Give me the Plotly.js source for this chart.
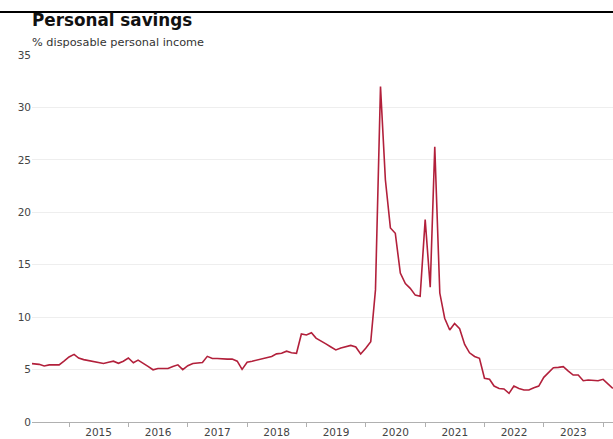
<!DOCTYPE html>
<html>
<head>
<meta charset="utf-8">
<script src="https://cdn.plot.ly/plotly-3.0.1.min.js"></script>
<style>
  html, body { margin: 0; padding: 0; background: #fff; }
  #chart { width: 613px; height: 439px; }
</style>
</head>
<body>
<div id="chart"></div>
<script>
// Personal saving rate, % of disposable personal income, monthly from May 2014
const firstMonth = [2014, 5];
const savingRate = [
  5.6, 5.58, 5.5, 5.34, 5.45, 5.45, 5.45, 5.8,                          // 2014 (May-Dec)
  6.2, 6.45, 6.1, 5.95, 5.85, 5.72, 5.62, 5.58, 5.7, 5.8, 5.6, 5.8,      // 2015
  6.1, 5.65, 5.9, 5.55, 5.3, 4.98, 5.1, 5.1, 5.1, 5.3, 5.45, 5.0,        // 2016
  5.37, 5.58, 5.6, 5.68, 6.26, 6.06, 6.05, 6.0, 6.0, 6.0, 5.8, 5.02,     // 2017
  5.7, 5.8, 5.9, 6.0, 6.1, 6.25, 6.5, 6.55, 6.75, 6.6, 6.55, 8.39,       // 2018
  8.3, 8.52, 8.0, 7.75, 7.45, 7.15, 6.87, 7.05, 7.2, 7.3, 7.15, 6.48,    // 2019
  7.03, 7.66, 12.6, 32.0, 23.1, 18.5, 18.0, 14.2, 13.2, 12.75, 12.1, 12.0, // 2020
  19.3, 12.85, 26.25, 12.3, 9.9, 8.77, 9.4, 8.9, 7.4, 6.6, 6.25, 6.07,   // 2021
  4.17, 4.07, 3.43, 3.2, 3.15, 2.73, 3.43, 3.2, 3.05, 3.05, 3.27, 3.43,  // 2022
  4.26, 4.7, 5.18, 5.21, 5.28, 4.86, 4.48, 4.48, 3.94, 4.0, 4.0, 3.94,   // 2023
  4.07, 3.62, 3.2                                                        // 2024 (Jan-Mar)
];

// Axis ticks and labels
const yearLabels = ['2015', '2016', '2017', '2018', '2019', '2020', '2021', '2022', '2023'];
const yearBoundaries = ['2015', '2016', '2017', '2018', '2019', '2020', '2021', '2022', '2023', '2024'];
const yTicks = [0, 5, 10, 15, 20, 25, 30, 35];

const titleText = 'Personal savings';
const subtitleText = '% disposable personal income';

// Month-start dates for each value
const months = savingRate.map((_, i) => {
  const total = firstMonth[0] * 12 + (firstMonth[1] - 1) + i;
  const y = Math.floor(total / 12);
  const m = total % 12 + 1;
  return y + '-' + String(m).padStart(2, '0') + '-01';
});

const LINE = '#b2203b';
const TICK_FONT = { family: 'DejaVu Sans, Verdana, sans-serif', size: 10.5, color: '#444' };

const trace = {
  type: 'scatter',
  mode: 'lines',
  x: months,
  y: savingRate,
  line: { color: LINE, width: 1.6 },
  hoverinfo: 'x+y'
};

const layout = {
  width: 613,
  height: 439,
  margin: { l: 32, r: 0, t: 55, b: 17 },
  paper_bgcolor: '#fff',
  plot_bgcolor: '#fff',
  showlegend: false,
  title: {
    text: '<b>' + titleText + '</b>',
    x: 32 / 613,
    xanchor: 'left',
    xref: 'container',
    y: 1 - 20 / 439,
    yanchor: 'middle',
    yref: 'container',
    font: { family: 'DejaVu Sans, sans-serif', size: 16.8, color: '#111', weight: 700 }
  },
  xaxis: {
    type: 'date',
    range: ['2014-05-18', '2024-03-02'],
    tickmode: 'array',
    tickvals: yearLabels.map(y => y + '-07-02'),
    ticktext: yearLabels,
    ticks: '',
    showgrid: false,
    zeroline: false,
    showline: true,
    linecolor: '#b0b0b0',
    linewidth: 1,
    tickfont: TICK_FONT,
    fixedrange: true,
    minor: {
      tickmode: 'array',
      tickvals: yearBoundaries.map(y => y + '-01-01'),
      ticks: 'outside',
      ticklen: 4,
      tickcolor: '#b0b0b0',
      tickwidth: 1,
      showgrid: false
    }
  },
  yaxis: {
    range: [0, 35],
    tickmode: 'array',
    tickvals: yTicks,
    ticktext: yTicks.map(String),
    showgrid: true,
    gridcolor: '#eeeeee',
    gridwidth: 1,
    zeroline: false,
    showline: false,
    ticks: '',
    tickfont: TICK_FONT,
    fixedrange: true
  },
  annotations: [{
    text: subtitleText,
    xref: 'paper', yref: 'paper',
    x: -2 / 581, y: (422 - 42) / 367,
    xanchor: 'left', yanchor: 'middle',
    showarrow: false,
    font: { family: 'DejaVu Sans, sans-serif', size: 11.3, color: '#333' }
  }],
  shapes: [{
    // rule across the top of the page
    type: 'line',
    xref: 'paper', yref: 'paper',
    x0: -32 / 581, x1: 1.01,
    y0: (422 - 12) / 367, y1: (422 - 12) / 367,
    line: { color: '#000', width: 2 }
  }]
};

Plotly.newPlot('chart', [trace], layout, { displayModeBar: false, staticPlot: true });
</script>
</body>
</html>
